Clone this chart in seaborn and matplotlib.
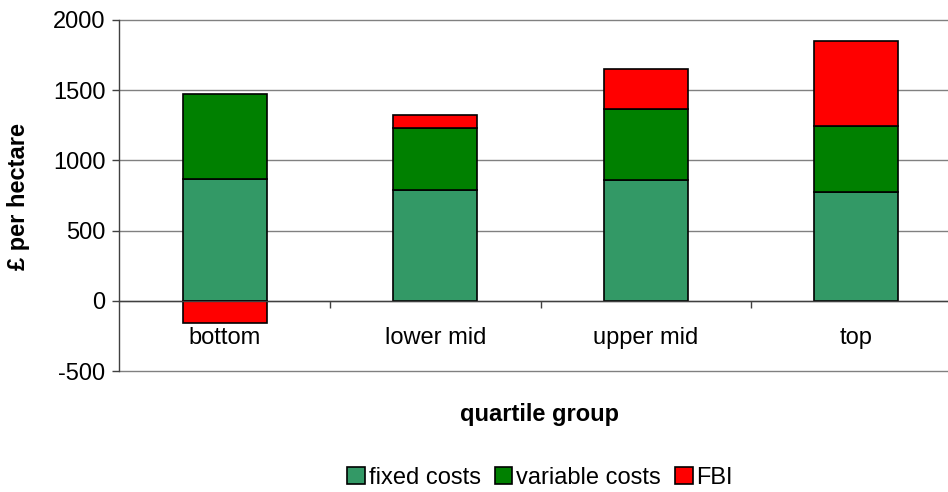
import matplotlib
matplotlib.use("Agg")
import matplotlib.pyplot as plt
import seaborn as sns
import numpy as np
from matplotlib.patches import Patch
from matplotlib.ticker import FixedLocator

# Cost structure and Farm Business Income by quartile group (£ per hectare)
categories = ["bottom", "lower mid", "upper mid", "top"]
fixed_costs = [869, 790, 857, 774]
variable_costs = [603, 442, 508, 472]
fbi = [-159, 93, 285, 606]

series_names = ["fixed costs", "variable costs", "FBI"]
series_colors = ["#339966", "#008000", "#FF0000"]
y_ticks = [-500, 0, 500, 1000, 1500, 2000]

sns.set_theme(style="white")
plt.rcParams["font.family"] = ["Liberation Sans", "DejaVu Sans"]
plt.rcParams["text.color"] = "black"
plt.rcParams["axes.unicode_minus"] = False

fig = plt.figure(figsize=(9.48, 4.92), dpi=100)
ax = fig.add_axes([119.5 / 948, 121 / 492, 842 / 948, 351 / 492])

fixed = np.array(fixed_costs, dtype=float)
variable = np.array(variable_costs, dtype=float)
income = np.array(fbi, dtype=float)

# positive parts stack upward from zero, a negative income hangs below zero
fbi_bottom = np.where(income >= 0, fixed + variable, 0.0)

bar_kw = dict(width=0.4, edgecolor="black", linewidth=1.2, ax=ax, zorder=3)
sns.barplot(x=categories, y=fixed, color=series_colors[0], saturation=1, **bar_kw)
sns.barplot(x=categories, y=variable, bottom=fixed, color=series_colors[1], saturation=1, **bar_kw)
sns.barplot(x=categories, y=income, bottom=fbi_bottom, color=series_colors[2], saturation=1, **bar_kw)

ax.set_xlim(-0.5, 3.5)
ax.set_ylim(y_ticks[0], y_ticks[-1])
ax.set_yticks(y_ticks)
ax.set_yticklabels([str(v) for v in y_ticks])
ax.yaxis.grid(True, color="#808080", linewidth=1.0, zorder=0)
ax.xaxis.grid(False)
for line in ax.get_ygridlines():
    line.set_clip_on(False)

for side in ["top", "right"]:
    ax.spines[side].set_visible(False)
ax.spines["left"].set_color("#404040")
ax.spines["left"].set_linewidth(1.0)
ax.spines["bottom"].set_position(("data", 0))
ax.spines["bottom"].set_color("#404040")
ax.spines["bottom"].set_linewidth(1.0)
ax.spines["bottom"].set_zorder(4)

ax.tick_params(axis="y", which="major", left=True, length=5, width=1,
               color="#404040", labelsize=17, labelcolor="black", pad=5)
ax.tick_params(axis="x", which="major", bottom=False, length=0,
               labelsize=17, labelcolor="black", pad=19)
ax.xaxis.set_minor_locator(FixedLocator([0.5, 1.5, 2.5]))
ax.tick_params(axis="x", which="minor", bottom=True, length=5, width=1,
               color="#404040", direction="out")

ax.set_xlabel("")
ax.set_ylabel("")
fig.text(19 / 948, 1 - 196 / 492, "£ per hectare", rotation=90, ha="center",
         va="center", fontsize=17, fontweight="bold", color="black")
fig.text(540 / 948, 1 - 415 / 492, "quartile group", ha="center", va="center",
         fontsize=17, fontweight="bold", color="black")

handles = [Patch(facecolor=c, edgecolor="black", linewidth=1.2, label=n)
           for n, c in zip(series_names, series_colors)]
leg = fig.legend(handles=handles, loc="center", bbox_to_anchor=(540 / 948, 1 - 478 / 492),
                 ncol=3, frameon=False, fontsize=17, handlelength=0.75, handleheight=0.75,
                 handletextpad=0.15, columnspacing=0.6, borderaxespad=0)
for t in leg.get_texts():
    t.set_color("black")

fig.savefig("out.png", dpi=100)
